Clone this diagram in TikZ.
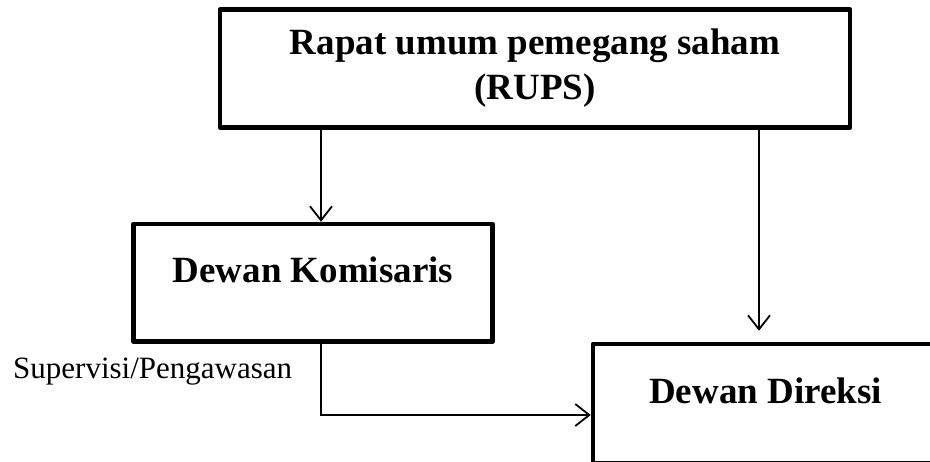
\documentclass[tikz,border=0pt]{standalone}
\usepackage{fontspec}
\setmainfont{Liberation Serif}
\usetikzlibrary{arrows.meta, positioning}
\newcommand{\orgArrow}{{Straight Barb[length=14pt, width=22pt]}}

\begin{document}
\begin{tikzpicture}[x=1pt, y=-1pt, font=\fontsize{37}{45}\selectfont\bfseries]
	\def\LW{4.5pt}
	\tikzset{
		orgbox/.style={draw, line width=\LW, line join=round, inner sep=0pt, align=center},
		link/.style={line width=1.8pt, -\orgArrow}
	}
	\useasboundingbox (0,0) rectangle (930,461);
	\clip (0,0) rectangle (930,461);
	\coordinate (K) at (321,0);
	\coordinate (D) at (759,0);
	\coordinate (S) at (0,415);
	
	\node[orgbox, minimum width=630pt, minimum height=118pt] (rups) at (535,68.5) {Rapat umum pemegang saham\\(RUPS)};
	\node[orgbox, minimum width=359pt, minimum height=117.5pt, text height=25pt, text depth=25pt] (kom) at (313,282.75) {Dewan Komisaris};
	\node[orgbox, minimum width=345pt, minimum height=119pt, text height=25pt, text depth=25pt] (dir) at (765.5,403.5) {Dewan Direksi};
	\node[font=\fontsize{31}{37}\selectfont, anchor=base west, inner sep=0pt] (sup) at (13,378) {Supervisi/Pengawasan};
	
	\draw[link]	(rups.south -| K) -- (kom.north -| K);
	\draw[link, shorten >=11pt]	(rups.south -| D) -- (dir.north -| D);
	\draw[link]	(kom.south -| K) |- (dir.west |- S);
	
\end{tikzpicture}
\end{document}
